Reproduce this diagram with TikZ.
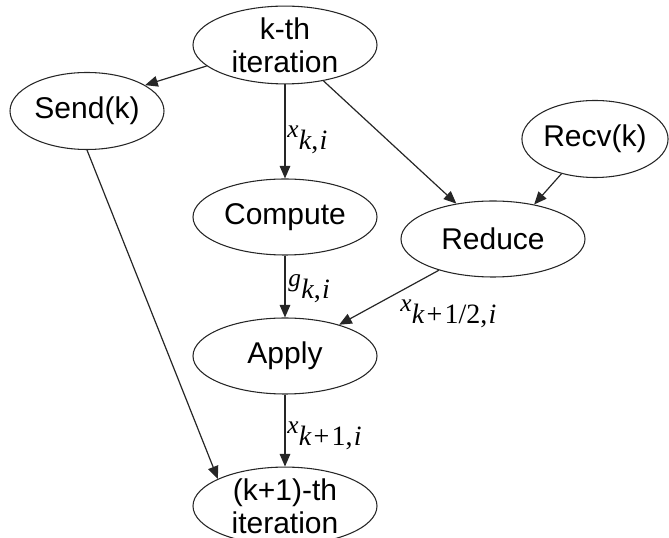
\documentclass[tikz,border=0pt]{standalone}
\usepackage{fontspec}
\setmainfont{Liberation Sans}
\newfontfamily\lblfont{Liberation Serif}
\usetikzlibrary{arrows.meta,shapes.geometric}

% edge label: raised variable followed by a larger subscript
\newcommand\xlbl[2]{\raisebox{9.5pt}{\fontsize{19}{19}\selectfont\lblfont\itshape #1}\kern0.3pt{\fontsize{21}{21}\selectfont\lblfont #2}}

\tikzset{
  stage/.style={draw=black!85, line width=0.8pt, ellipse, inner sep=0pt,
    minimum width=138pt, minimum height=57pt, align=center,
    font=\fontsize{22.5}{24.75}\selectfont},
  flow/.style={draw=black!85, line width=0.9pt,
    -{Triangle[length=9.5pt,width=8pt]}},
  lbl/.style={inner sep=0pt, anchor=base west}
}

\begin{document}
\begin{tikzpicture}[x=0.75pt,y=-0.75pt]
  \useasboundingbox (0,0) rectangle (669,538);

  % stages
  \node[stage] (kth)     at (285,45)  {k-th\\iteration};
  \node[stage, minimum width=115.5pt, minimum height=57.75pt] (send) at (87,111) {Send(k)};
  \node[stage, minimum width=108.75pt, minimum height=57.75pt] (recv) at (595,139) {Recv(k)};
  \node[stage] (compute) at (285,217) {Compute};
  \node[stage] (reduce)  at (493,239) {Reduce};
  \node[stage] (apply)   at (285,356) {Apply};
  \node[stage] (next)    at (285,506) {(k+1)-th\\iteration};

  % data flow
  \draw[flow] (kth.195.7) -- (send.24.9);
  \draw[flow] (kth.south) -- (compute.north);
  \draw[flow] (kth.317.4) -- (reduce.136.5);
  \draw[flow] (recv.226.7) -- (reduce.40.6);
  \draw[flow] (compute.south) -- (apply.north);
  \draw[flow] (reduce.210.2) -- (apply.30);
  \draw[flow] (apply.south) -- (next.north);
  \draw[flow] (send.south) -- (next.158.8);

  % edge labels
  \node[lbl] (lxk)  at (287,150) {\xlbl{x}{\textit{k},\kern1pt\textit{i}}};
  \node[lbl] (lgk)  at (288,299) {\xlbl{g}{\textit{k},\kern1pt\textit{i}}};
  \node[lbl] (lxh)  at (400,324) {\xlbl{x}{\textit{k}\kern1.5pt+\kern1.5pt1/2,\kern1pt\textit{i}}};
  \node[lbl] (lxk1) at (287,446) {\xlbl{x}{\textit{k}\kern1.5pt+\kern1.5pt1,\kern1pt\textit{i}}};
\end{tikzpicture}
\end{document}
